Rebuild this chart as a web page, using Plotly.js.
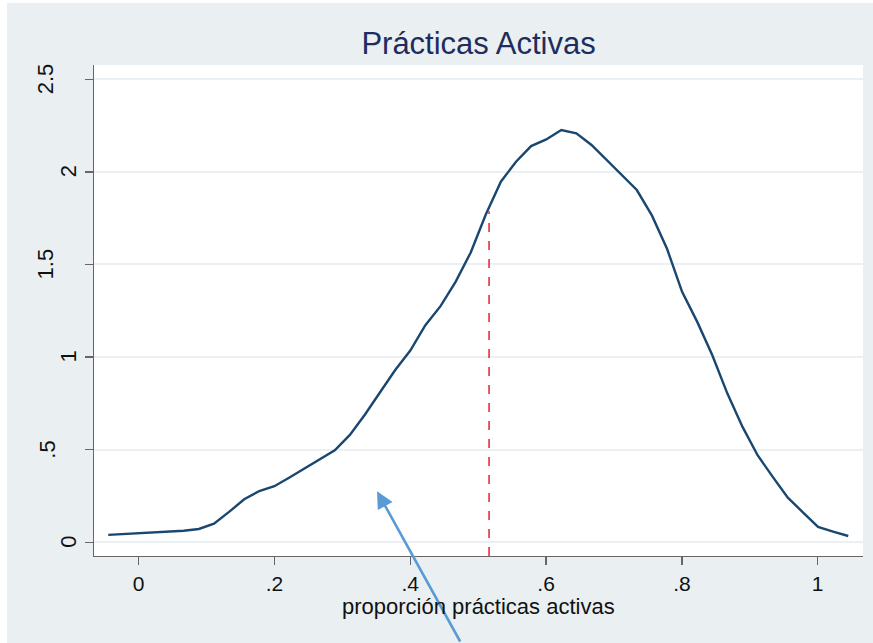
<!DOCTYPE html>
<html>
<head>
<meta charset="utf-8">
<script src="https://cdn.plot.ly/plotly-3.0.1.min.js"></script>
<style>
html, body { margin: 0; padding: 0; background: #ffffff; width: 873px; height: 643px; overflow: hidden; }
#chart { position: absolute; left: 7px; top: 3px; width: 866px; height: 640px; }
</style>
</head>
<body>
<div id="chart"></div>
<script>
// Kernel density estimate of "proporción prácticas activas"
const densityX = [-0.0448, -0.0226, -0.0003, 0.0219, 0.0442, 0.0664, 0.0886, 0.1109, 0.1331, 0.1554,
                  0.1776, 0.1998, 0.2221, 0.2443, 0.2666, 0.2888, 0.3110, 0.3333, 0.3555, 0.3778,
                  0.4000, 0.4222, 0.4445, 0.4667, 0.4890, 0.5112, 0.5334, 0.5557, 0.5779, 0.6002,
                  0.6224, 0.6446, 0.6669, 0.6891, 0.7114, 0.7336, 0.7558, 0.7781, 0.8003, 0.8226,
                  0.8448, 0.8670, 0.8893, 0.9115, 0.9338, 0.9560, 0.9782, 1.0005, 1.0227, 1.0450];
const densityY = [0.040, 0.044, 0.047, 0.050, 0.054, 0.062, 0.072, 0.101, 0.164, 0.232,
                  0.277, 0.303, 0.350, 0.398, 0.445, 0.497, 0.580, 0.690, 0.810, 0.930,
                  1.035, 1.172, 1.275, 1.406, 1.565, 1.770, 1.947, 2.055, 2.139, 2.175,
                  2.226, 2.208, 2.145, 2.064, 1.988, 1.902, 1.765, 1.585, 1.352, 1.190,
                  1.010, 0.803, 0.623, 0.470, 0.353, 0.241, 0.162, 0.083, 0.058, 0.034];

// Vertical reference line (mean) and annotation arrow tip
const refLineX = [0.516, 0.516];
const refLineY = [-0.074, 1.788];
const arrowTip = [0.351, 0.276];

const xTickVals = [0, 0.2, 0.4, 0.6, 0.8, 1];
const xTickText = ["0", ".2", ".4", ".6", ".8", "1"];
const yTickVals = [0, 0.5, 1, 1.5, 2, 2.5];
const yTickText = ["0", ".5", "1", "1.5", "2", "2.5"];
// horizontal offset (px, from plot's left edge) of each rotated y label, as placed in the original
const yLabelShift = [-25.5, -46, -25.5, -49, -25.5, -49];

const titleText = "Prácticas Activas";
const xTitleText = "proporción prácticas activas";

const FONT = "Liberation Sans, Arial, Helvetica, sans-serif";

const traces = [
  {
    x: densityX, y: densityY, type: "scatter", mode: "lines",
    line: { color: "#1A476F", width: 2.4 }, hoverinfo: "skip", showlegend: false
  },
  {
    x: refLineX, y: refLineY, type: "scatter", mode: "lines",
    line: { color: "#E8202A", width: 1.5, dash: "dash" }, hoverinfo: "skip", showlegend: false
  }
];

const yLabelAnnots = yTickVals.map((v, i) => ({
  x: 0, xref: "paper", y: v, yref: "y",
  text: yTickText[i], showarrow: false, textangle: -90,
  xanchor: "center", yanchor: "middle", xshift: yLabelShift[i],
  font: { family: FONT, size: 22, color: "#111111" }
}));

const xTitleAnnot = {
  x: 0.5, xref: "paper", y: 0, yref: "paper",
  text: xTitleText, showarrow: false,
  xanchor: "center", yanchor: "middle", yshift: -50,
  font: { family: FONT, size: 22, color: "#111111" }
};

const layout = {
  width: 866, height: 640,
  paper_bgcolor: "#EAF0F2",
  plot_bgcolor: "#FFFFFF",
  margin: { l: 87, r: 10, t: 62, b: 87, pad: 0 },
  font: { family: FONT, color: "#111111" },
  title: {
    text: titleText,
    font: { family: FONT, size: 31, color: "#1E2D5E" },
    x: 0.5445, xanchor: "center", xref: "container",
    y: 0.938, yanchor: "middle", yref: "container"
  },
  xaxis: {
    range: [-0.0658, 1.0667],
    tickmode: "array", tickvals: xTickVals, ticktext: xTickText,
    ticks: "outside", ticklen: 8, tickwidth: 1.3, tickcolor: "#666666",
    showline: true, linecolor: "#666666", linewidth: 1.3,
    showgrid: false, zeroline: false,
    tickfont: { family: FONT, size: 21, color: "#111111" }
  },
  yaxis: {
    range: [-0.074, 2.577],
    tickmode: "array", tickvals: yTickVals, ticktext: yTickText,
    showticklabels: false,
    ticks: "outside", ticklen: 8, tickwidth: 1.3, tickcolor: "#666666",
    showline: true, linecolor: "#666666", linewidth: 1.3,
    showgrid: true, gridcolor: "#EAF0F3", gridwidth: 2,
    zeroline: false
  },
  annotations: [
    {
      x: arrowTip[0], y: arrowTip[1], xref: "x", yref: "y",
      text: "", showarrow: true,
      ax: 84, ay: 156, axref: "pixel", ayref: "pixel",
      arrowcolor: "#5B9BD5", arrowwidth: 2.6, arrowhead: 2, arrowsize: 1.3
    },
    xTitleAnnot
  ].concat(yLabelAnnots),
  showlegend: false
};

Plotly.newPlot("chart", traces, layout, { displayModeBar: false, staticPlot: true });
</script>
</body>
</html>
